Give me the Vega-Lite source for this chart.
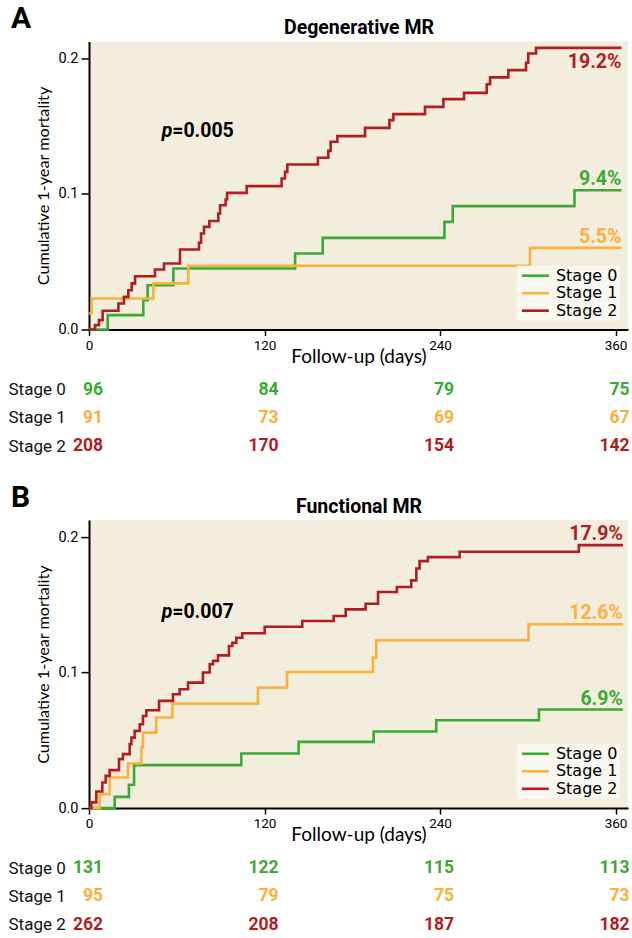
{
  "$schema": "https://vega.github.io/schema/vega-lite/v6.json",
  "padding": {"left": 8, "top": 3.5, "right": 0, "bottom": 0},
  "background": "white",
  "bounds": "flush",
  "spacing": 38.3,
  "datasets": {
    "curves": [
      {"panel":"A","stage":"Stage 0","day":0,"value":0},{"panel":"A","stage":"Stage 0","day":12.8,"value":0.0106},{"panel":"A","stage":"Stage 0","day":37.1,"value":0.0216},{"panel":"A","stage":"Stage 0","day":40.1,"value":0.0327},{"panel":"A","stage":"Stage 0","day":57.7,"value":0.045},{"panel":"A","stage":"Stage 0","day":140.9,"value":0.0561},{"panel":"A","stage":"Stage 0","day":159.8,"value":0.0676},{"panel":"A","stage":"Stage 0","day":243,"value":0.0794},{"panel":"A","stage":"Stage 0","day":248.7,"value":0.091},{"panel":"A","stage":"Stage 0","day":331.9,"value":0.1028},{"panel":"A","stage":"Stage 0","day":364,"value":0.1028},
      {"panel":"A","stage":"Stage 1","day":0,"value":0.0118},{"panel":"A","stage":"Stage 1","day":1.8,"value":0.0229},{"panel":"A","stage":"Stage 1","day":44,"value":0.034},{"panel":"A","stage":"Stage 1","day":67.9,"value":0.047},{"panel":"A","stage":"Stage 1","day":301.5,"value":0.0602},{"panel":"A","stage":"Stage 1","day":364,"value":0.0602},
      {"panel":"A","stage":"Stage 2","day":0,"value":0},{"panel":"A","stage":"Stage 2","day":4.1,"value":0.0032},{"panel":"A","stage":"Stage 2","day":6.8,"value":0.0069},{"panel":"A","stage":"Stage 2","day":9.3,"value":0.0138},{"panel":"A","stage":"Stage 2","day":20.1,"value":0.0192},{"panel":"A","stage":"Stage 2","day":23.9,"value":0.0241},{"panel":"A","stage":"Stage 2","day":26.9,"value":0.029},{"panel":"A","stage":"Stage 2","day":29.2,"value":0.034},{"panel":"A","stage":"Stage 2","day":31.5,"value":0.0393},{"panel":"A","stage":"Stage 2","day":45.1,"value":0.0443},{"panel":"A","stage":"Stage 2","day":51.3,"value":0.0487},{"panel":"A","stage":"Stage 2","day":62.2,"value":0.059},{"panel":"A","stage":"Stage 2","day":75.2,"value":0.064},{"panel":"A","stage":"Stage 2","day":76.6,"value":0.0708},{"panel":"A","stage":"Stage 2","day":78.6,"value":0.0757},{"panel":"A","stage":"Stage 2","day":82.3,"value":0.0801},{"panel":"A","stage":"Stage 2","day":88.4,"value":0.0856},{"panel":"A","stage":"Stage 2","day":89.6,"value":0.0917},{"panel":"A","stage":"Stage 2","day":93.4,"value":0.0959},{"panel":"A","stage":"Stage 2","day":94.4,"value":0.1008},{"panel":"A","stage":"Stage 2","day":107.8,"value":0.1058},{"panel":"A","stage":"Stage 2","day":131.7,"value":0.1114},{"panel":"A","stage":"Stage 2","day":134,"value":0.1163},{"panel":"A","stage":"Stage 2","day":135.6,"value":0.1217},{"panel":"A","stage":"Stage 2","day":156.5,"value":0.1267},{"panel":"A","stage":"Stage 2","day":163.6,"value":0.1318},{"panel":"A","stage":"Stage 2","day":165.2,"value":0.1385},{"panel":"A","stage":"Stage 2","day":169.8,"value":0.1427},{"panel":"A","stage":"Stage 2","day":188.7,"value":0.1488},{"panel":"A","stage":"Stage 2","day":205.4,"value":0.1545},{"panel":"A","stage":"Stage 2","day":208.1,"value":0.1589},{"panel":"A","stage":"Stage 2","day":229.7,"value":0.1643},{"panel":"A","stage":"Stage 2","day":242.3,"value":0.17},{"panel":"A","stage":"Stage 2","day":256.4,"value":0.1746},{"panel":"A","stage":"Stage 2","day":271.9,"value":0.181},{"panel":"A","stage":"Stage 2","day":274.2,"value":0.186},{"panel":"A","stage":"Stage 2","day":286.7,"value":0.1914},{"panel":"A","stage":"Stage 2","day":298.8,"value":0.1968},{"panel":"A","stage":"Stage 2","day":300.3,"value":0.2037},{"panel":"A","stage":"Stage 2","day":305.6,"value":0.2078},{"panel":"A","stage":"Stage 2","day":364,"value":0.2078},
      {"panel":"B","stage":"Stage 0","day":0,"value":0},{"panel":"B","stage":"Stage 0","day":17.6,"value":0.0083},{"panel":"B","stage":"Stage 0","day":27.3,"value":0.0172},{"panel":"B","stage":"Stage 0","day":30.8,"value":0.0317},{"panel":"B","stage":"Stage 0","day":104.1,"value":0.0403},{"panel":"B","stage":"Stage 0","day":143.3,"value":0.0489},{"panel":"B","stage":"Stage 0","day":194.6,"value":0.0565},{"panel":"B","stage":"Stage 0","day":237.4,"value":0.0648},{"panel":"B","stage":"Stage 0","day":307.6,"value":0.0727},{"panel":"B","stage":"Stage 0","day":365,"value":0.0727},
      {"panel":"B","stage":"Stage 1","day":0,"value":0},{"panel":"B","stage":"Stage 1","day":7.3,"value":0.0103},{"panel":"B","stage":"Stage 1","day":14.1,"value":0.0226},{"panel":"B","stage":"Stage 1","day":26.7,"value":0.0329},{"panel":"B","stage":"Stage 1","day":35.8,"value":0.0447},{"panel":"B","stage":"Stage 1","day":36.9,"value":0.0557},{"panel":"B","stage":"Stage 1","day":46,"value":0.0668},{"panel":"B","stage":"Stage 1","day":57,"value":0.0771},{"panel":"B","stage":"Stage 1","day":115.5,"value":0.0889},{"panel":"B","stage":"Stage 1","day":135.4,"value":0.1004},{"panel":"B","stage":"Stage 1","day":194.1,"value":0.111},{"panel":"B","stage":"Stage 1","day":196.4,"value":0.1238},{"panel":"B","stage":"Stage 1","day":300.5,"value":0.1356},{"panel":"B","stage":"Stage 1","day":365,"value":0.1356},
      {"panel":"B","stage":"Stage 2","day":0,"value":0},{"panel":"B","stage":"Stage 2","day":1.6,"value":0.0042},{"panel":"B","stage":"Stage 2","day":5,"value":0.0123},{"panel":"B","stage":"Stage 2","day":9.1,"value":0.0189},{"panel":"B","stage":"Stage 2","day":11.4,"value":0.0238},{"panel":"B","stage":"Stage 2","day":14.1,"value":0.028},{"panel":"B","stage":"Stage 2","day":20.5,"value":0.0361},{"panel":"B","stage":"Stage 2","day":23.2,"value":0.0398},{"panel":"B","stage":"Stage 2","day":27.8,"value":0.0472},{"panel":"B","stage":"Stage 2","day":29,"value":0.052},{"panel":"B","stage":"Stage 2","day":31.2,"value":0.057},{"panel":"B","stage":"Stage 2","day":34.7,"value":0.0619},{"panel":"B","stage":"Stage 2","day":36.9,"value":0.068},{"panel":"B","stage":"Stage 2","day":39.2,"value":0.0722},{"panel":"B","stage":"Stage 2","day":47.9,"value":0.0791},{"panel":"B","stage":"Stage 2","day":57.4,"value":0.084},{"panel":"B","stage":"Stage 2","day":62,"value":0.0877},{"panel":"B","stage":"Stage 2","day":67.7,"value":0.0926},{"panel":"B","stage":"Stage 2","day":77.9,"value":0.1},{"panel":"B","stage":"Stage 2","day":82.5,"value":0.1061},{"panel":"B","stage":"Stage 2","day":84.8,"value":0.1086},{"panel":"B","stage":"Stage 2","day":88.2,"value":0.1127},{"panel":"B","stage":"Stage 2","day":95.7,"value":0.1196},{"panel":"B","stage":"Stage 2","day":98,"value":0.122},{"panel":"B","stage":"Stage 2","day":100.7,"value":0.1257},{"panel":"B","stage":"Stage 2","day":104.8,"value":0.129},{"panel":"B","stage":"Stage 2","day":120.1,"value":0.1338},{"panel":"B","stage":"Stage 2","day":145.8,"value":0.138},{"panel":"B","stage":"Stage 2","day":167.3,"value":0.1417},{"panel":"B","stage":"Stage 2","day":175.5,"value":0.1466},{"panel":"B","stage":"Stage 2","day":189.1,"value":0.1508},{"panel":"B","stage":"Stage 2","day":197.6,"value":0.1594},{"panel":"B","stage":"Stage 2","day":210.5,"value":0.1631},{"panel":"B","stage":"Stage 2","day":220.3,"value":0.168},{"panel":"B","stage":"Stage 2","day":223.8,"value":0.1768},{"panel":"B","stage":"Stage 2","day":226,"value":0.1822},{"panel":"B","stage":"Stage 2","day":231.7,"value":0.1852},{"panel":"B","stage":"Stage 2","day":253.4,"value":0.1891},{"panel":"B","stage":"Stage 2","day":334.9,"value":0.194},{"panel":"B","stage":"Stage 2","day":365,"value":0.194}
    ],
    "endlabels": [
      {"panel":"A","stage":"Stage 0","day":364,"value":0.1028,"label":"9.4%"},
      {"panel":"A","stage":"Stage 1","day":364,"value":0.0602,"label":"5.5%"},
      {"panel":"A","stage":"Stage 2","day":364,"value":0.2078,"label":"19.2%"},
      {"panel":"B","stage":"Stage 0","day":365,"value":0.0727,"label":"6.9%"},
      {"panel":"B","stage":"Stage 1","day":365,"value":0.1356,"label":"12.6%"},
      {"panel":"B","stage":"Stage 2","day":365,"value":0.194,"label":"17.9%"}
    ],
    "pvalues": [
      {"panel":"A","label":"=0.005"},
      {"panel":"B","label":"=0.007"}
    ],
    "risk": [
      {"panel":"A","stage":"Stage 0","day":0,"n":96},{"panel":"A","stage":"Stage 0","day":120,"n":84},{"panel":"A","stage":"Stage 0","day":240,"n":79},{"panel":"A","stage":"Stage 0","day":360,"n":75},
      {"panel":"A","stage":"Stage 1","day":0,"n":91},{"panel":"A","stage":"Stage 1","day":120,"n":73},{"panel":"A","stage":"Stage 1","day":240,"n":69},{"panel":"A","stage":"Stage 1","day":360,"n":67},
      {"panel":"A","stage":"Stage 2","day":0,"n":208},{"panel":"A","stage":"Stage 2","day":120,"n":170},{"panel":"A","stage":"Stage 2","day":240,"n":154},{"panel":"A","stage":"Stage 2","day":360,"n":142},
      {"panel":"B","stage":"Stage 0","day":0,"n":131},{"panel":"B","stage":"Stage 0","day":120,"n":122},{"panel":"B","stage":"Stage 0","day":240,"n":115},{"panel":"B","stage":"Stage 0","day":360,"n":113},
      {"panel":"B","stage":"Stage 1","day":0,"n":95},{"panel":"B","stage":"Stage 1","day":120,"n":79},{"panel":"B","stage":"Stage 1","day":240,"n":75},{"panel":"B","stage":"Stage 1","day":360,"n":73},
      {"panel":"B","stage":"Stage 2","day":0,"n":262},{"panel":"B","stage":"Stage 2","day":120,"n":208},{"panel":"B","stage":"Stage 2","day":240,"n":187},{"panel":"B","stage":"Stage 2","day":360,"n":182}
    ]
  },
  "vconcat": [
    {
      "width": 539, "height": 288,
      "view": {"fill": "#f2eddc", "stroke": null},
      "title": {"text": "A", "anchor": "start", "frame": "group", "dx": -78, "dy": 16.5, "offset": 0, "fontSize": 30, "font": "Roboto", "fontWeight": "bold", "color": "#000"},
      "layer": [
        {
          "data": {"name": "curves"},
          "transform": [{"filter": "datum.panel === 'A'"}],
          "mark": {"type": "line", "interpolate": "step-after", "strokeWidth": 2.6},
          "encoding": {
            "x": {"field": "day", "type": "quantitative", "scale": {"domain": [0, 368.5], "nice": false, "zero": false},
                  "axis": {"orient": "bottom", "values": [0, 120, 240, 360], "title": "Follow-up (days)", "titleFont": "Lato", "titleFontSize": 19, "titleFontWeight": "normal", "titleColor": "#000", "titlePadding": -4.5, "labelFont": "Roboto", "labelFontSize": 13.5, "labelColor": "#000", "labelPadding": 2.5, "labelFlush": false, "tickSize": 6, "tickColor": "#000", "tickWidth": 1.5, "domainColor": "#000", "domainWidth": 2, "grid": false}},
            "y": {"field": "value", "type": "quantitative", "scale": {"domain": [0, 0.2125], "nice": false},
                  "axis": {"values": [0, 0.1, 0.2], "format": ".1f", "title": "Cumulative 1-year mortality", "titleFont": "Lato", "titleFontSize": 16.2, "titleFontWeight": "normal", "titleColor": "#000", "titlePadding": 6, "labelFont": "Roboto", "labelFontSize": 14.5, "labelColor": "#000", "labelPadding": 3, "tickSize": 8, "tickColor": "#000", "tickWidth": 1.5, "domainColor": "#000", "domainWidth": 2, "grid": false}},
            "color": {"field": "stage", "type": "nominal", "scale": {"domain": ["Stage 0", "Stage 1", "Stage 2"], "range": ["#3aaa35", "#fbb03b", "#b01e23"]},
                      "legend": {"orient": "none", "legendX": 427.9, "legendY": 224.2, "title": null, "symbolType": "M-1,0H4.4", "symbolSize": 100, "symbolStrokeWidth": 2.6, "labelFont": "DejaVu Sans", "labelFontSize": 16, "labelColor": "#000", "labelOffset": 21, "fillColor": "#f8f7f0", "padding": 2, "rowPadding": 1.5}}
          }
        },
        {
          "data": {"name": "endlabels"},
          "transform": [{"filter": "datum.panel === 'A' && datum.stage !== 'Stage 2'"}],
          "mark": {"type": "text", "align": "right", "baseline": "alphabetic", "dy": -5, "font": "Roboto", "fontWeight": "bold", "fontSize": 19.5},
          "encoding": {
            "x": {"field": "day", "type": "quantitative", "axis": {"orient": "top", "title": "Degenerative MR", "labels": false, "ticks": false, "domain": false, "grid": false, "titleFont": "Roboto", "titleFontSize": 19.5, "titleFontWeight": "bold", "titleColor": "#000", "titlePadding": 4}},
            "y": {"field": "value", "type": "quantitative"},
            "text": {"field": "label"},
            "color": {"field": "stage", "type": "nominal", "scale": {"domain": ["Stage 0", "Stage 1", "Stage 2"], "range": ["#3aaa35", "#fbb03b", "#b01e23"]}, "legend": null}
          }
        },
        {
          "data": {"name": "endlabels"},
          "transform": [{"filter": "datum.panel === 'A' && datum.stage === 'Stage 2'"}],
          "mark": {"type": "text", "align": "right", "baseline": "top", "dy": 5, "font": "Roboto", "fontWeight": "bold", "fontSize": 19.5},
          "encoding": {
            "x": {"field": "day", "type": "quantitative", "axis": null},
            "y": {"field": "value", "type": "quantitative"},
            "text": {"field": "label"},
            "color": {"field": "stage", "type": "nominal", "scale": {"domain": ["Stage 0", "Stage 1", "Stage 2"], "range": ["#3aaa35", "#fbb03b", "#b01e23"]}, "legend": null}
          }
        },
        {
          "data": {"name": "pvalues"},
          "transform": [{"filter": "datum.panel === 'A'"}],
          "mark": {"type": "text", "text": "p", "align": "left", "baseline": "alphabetic", "font": "Roboto", "fontWeight": "bold", "fontStyle": "italic", "fontSize": 19.5, "color": "#000"},
          "encoding": {
            "x": {"datum": 49.7, "type": "quantitative", "axis": null},
            "y": {"datum": 0.142, "type": "quantitative"}
          }
        },
        {
          "data": {"name": "pvalues"},
          "transform": [{"filter": "datum.panel === 'A'"}],
          "mark": {"type": "text", "align": "left", "baseline": "alphabetic", "dx": 10.5, "font": "Roboto", "fontWeight": "bold", "fontSize": 19.5, "color": "#000"},
          "encoding": {
            "x": {"datum": 49.7, "type": "quantitative", "axis": null},
            "y": {"datum": 0.142, "type": "quantitative"},
            "text": {"field": "label"}
          }
        }
      ],
      "resolve": {"axis": {"x": "independent"}}
    },
    {
      "width": 539, "height": 113.4,
      "view": {"fill": null, "stroke": null},
      "data": {"name": "risk"},
      "transform": [{"filter": "datum.panel === 'A'"}],
      "mark": {"type": "text", "align": "right", "dx": 14, "font": "Roboto", "fontWeight": "bold", "fontSize": 17.5},
      "encoding": {
        "x": {"field": "day", "type": "quantitative", "scale": {"domain": [0, 368.5], "nice": false, "zero": false}, "axis": null},
        "y": {"field": "stage", "type": "nominal", "sort": ["Stage 0", "Stage 1", "Stage 2"], "scale": {"type": "point", "padding": 1, "align": 0.383, "round": false},
              "axis": {"title": null, "domain": false, "ticks": false, "tickSize": 0, "grid": false, "labelAlign": "left", "labelBaseline": "middle", "labelPadding": 81, "labelFont": "Roboto", "labelFontSize": 17, "labelColor": "#111"}},
        "text": {"field": "n", "type": "quantitative"},
        "color": {"field": "stage", "type": "nominal", "scale": {"domain": ["Stage 0", "Stage 1", "Stage 2"], "range": ["#3aaa35", "#fbb03b", "#b01e23"]}, "legend": null}
      }
    },
    {
      "width": 539, "height": 288,
      "view": {"fill": "#f2eddc", "stroke": null},
      "title": {"text": "B", "anchor": "start", "frame": "group", "dx": -78, "dy": 16.5, "offset": 0, "fontSize": 30, "font": "Roboto", "fontWeight": "bold", "color": "#000"},
      "layer": [
        {
          "data": {"name": "curves"},
          "transform": [{"filter": "datum.panel === 'B'"}],
          "mark": {"type": "line", "interpolate": "step-after", "strokeWidth": 2.6},
          "encoding": {
            "x": {"field": "day", "type": "quantitative", "scale": {"domain": [0, 368.5], "nice": false, "zero": false},
                  "axis": {"orient": "bottom", "values": [0, 120, 240, 360], "title": "Follow-up (days)", "titleFont": "Lato", "titleFontSize": 19, "titleFontWeight": "normal", "titleColor": "#000", "titlePadding": -4.5, "labelFont": "Roboto", "labelFontSize": 13.5, "labelColor": "#000", "labelPadding": 2.5, "labelFlush": false, "tickSize": 6, "tickColor": "#000", "tickWidth": 1.5, "domainColor": "#000", "domainWidth": 2, "grid": false}},
            "y": {"field": "value", "type": "quantitative", "scale": {"domain": [0, 0.2125], "nice": false},
                  "axis": {"values": [0, 0.1, 0.2], "format": ".1f", "title": "Cumulative 1-year mortality", "titleFont": "Lato", "titleFontSize": 16.2, "titleFontWeight": "normal", "titleColor": "#000", "titlePadding": 6, "labelFont": "Roboto", "labelFontSize": 14.5, "labelColor": "#000", "labelPadding": 3, "tickSize": 8, "tickColor": "#000", "tickWidth": 1.5, "domainColor": "#000", "domainWidth": 2, "grid": false}},
            "color": {"field": "stage", "type": "nominal", "scale": {"domain": ["Stage 0", "Stage 1", "Stage 2"], "range": ["#3aaa35", "#fbb03b", "#b01e23"]},
                      "legend": {"orient": "none", "legendX": 427.9, "legendY": 223.7, "title": null, "symbolType": "M-1,0H4.4", "symbolSize": 100, "symbolStrokeWidth": 2.6, "labelFont": "DejaVu Sans", "labelFontSize": 16, "labelColor": "#000", "labelOffset": 21, "fillColor": "#f8f7f0", "padding": 2, "rowPadding": 1.5}}
          }
        },
        {
          "data": {"name": "endlabels"},
          "transform": [{"filter": "datum.panel === 'B'"}],
          "mark": {"type": "text", "align": "right", "baseline": "alphabetic", "dy": -5, "font": "Roboto", "fontWeight": "bold", "fontSize": 19.5},
          "encoding": {
            "x": {"field": "day", "type": "quantitative", "axis": {"orient": "top", "title": "Functional MR", "labels": false, "ticks": false, "domain": false, "grid": false, "titleFont": "Roboto", "titleFontSize": 19.5, "titleFontWeight": "bold", "titleColor": "#000", "titlePadding": 4}},
            "y": {"field": "value", "type": "quantitative"},
            "text": {"field": "label"},
            "color": {"field": "stage", "type": "nominal", "scale": {"domain": ["Stage 0", "Stage 1", "Stage 2"], "range": ["#3aaa35", "#fbb03b", "#b01e23"]}, "legend": null}
          }
        },
        {
          "data": {"name": "pvalues"},
          "transform": [{"filter": "datum.panel === 'B'"}],
          "mark": {"type": "text", "text": "p", "align": "left", "baseline": "alphabetic", "font": "Roboto", "fontWeight": "bold", "fontStyle": "italic", "fontSize": 19.5, "color": "#000"},
          "encoding": {
            "x": {"datum": 49.7, "type": "quantitative", "axis": null},
            "y": {"datum": 0.1405, "type": "quantitative"}
          }
        },
        {
          "data": {"name": "pvalues"},
          "transform": [{"filter": "datum.panel === 'B'"}],
          "mark": {"type": "text", "align": "left", "baseline": "alphabetic", "dx": 10.5, "font": "Roboto", "fontWeight": "bold", "fontSize": 19.5, "color": "#000"},
          "encoding": {
            "x": {"datum": 49.7, "type": "quantitative", "axis": null},
            "y": {"datum": 0.1405, "type": "quantitative"},
            "text": {"field": "label"}
          }
        }
      ],
      "resolve": {"axis": {"x": "independent"}}
    },
    {
      "width": 539, "height": 113.4,
      "view": {"fill": null, "stroke": null},
      "data": {"name": "risk"},
      "transform": [{"filter": "datum.panel === 'B'"}],
      "mark": {"type": "text", "align": "right", "dx": 14, "font": "Roboto", "fontWeight": "bold", "fontSize": 17.5},
      "encoding": {
        "x": {"field": "day", "type": "quantitative", "scale": {"domain": [0, 368.5], "nice": false, "zero": false}, "axis": null},
        "y": {"field": "stage", "type": "nominal", "sort": ["Stage 0", "Stage 1", "Stage 2"], "scale": {"type": "point", "padding": 1, "align": 0.383, "round": false},
              "axis": {"title": null, "domain": false, "ticks": false, "tickSize": 0, "grid": false, "labelAlign": "left", "labelBaseline": "middle", "labelPadding": 81, "labelFont": "Roboto", "labelFontSize": 17, "labelColor": "#111"}},
        "text": {"field": "n", "type": "quantitative"},
        "color": {"field": "stage", "type": "nominal", "scale": {"domain": ["Stage 0", "Stage 1", "Stage 2"], "range": ["#3aaa35", "#fbb03b", "#b01e23"]}, "legend": null}
      }
    }
  ],
  "resolve": {"scale": {"color": "independent"}, "legend": {"color": "independent"}},
  "config": {"view": {"stroke": null}, "font": "Roboto"}
}
